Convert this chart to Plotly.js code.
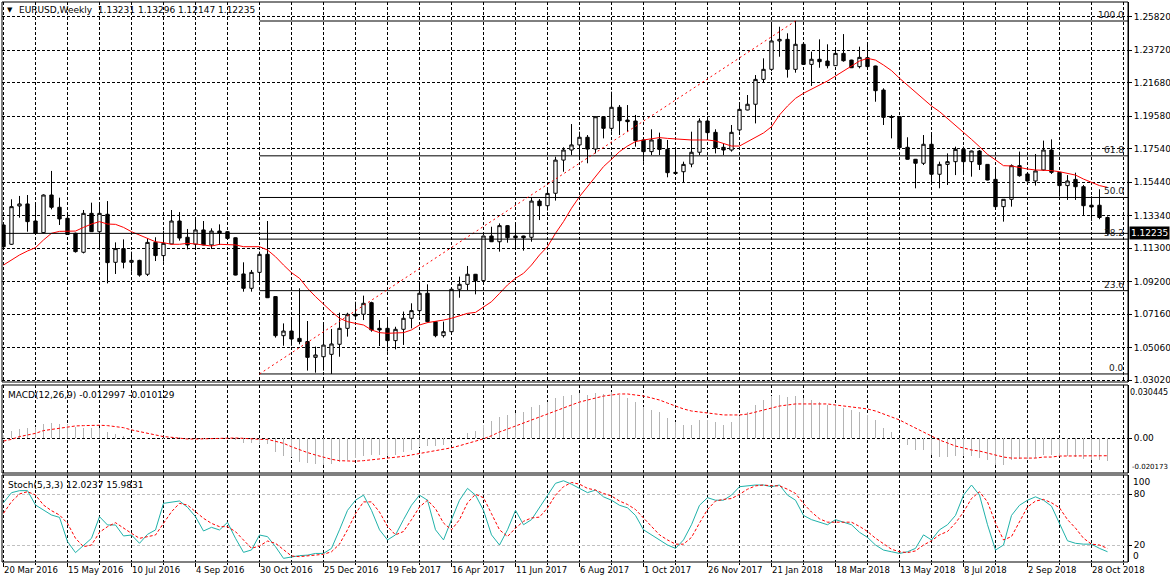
<!DOCTYPE html>
<html><head><meta charset="utf-8">
<script src="https://cdn.plot.ly/plotly-3.0.1.min.js"></script>
<style>html,body{margin:0;padding:0;background:#fff}#chart{width:1170px;height:584px}</style>
</head><body><div id="chart"></div><script>
// ---------------- DATA ----------------
const symbolTitle = 'EURUSD,Weekly\u00a0\u00a01.13231 1.13296 1.12147 1.12235';
const firstWeek = '2016-03-20';
const open = [
1.1276,1.1155,1.1395,1.1408,1.1301,1.1228,1.1464,1.1387,1.1318,1.1224,
1.1105,1.1349,1.1234,1.1343,1.1042,1.1128,1.1042,1.1054,1.0967,1.1167,
1.1084,1.1157,1.1301,1.1199,1.1155,1.1245,1.1151,1.1238,1.1234,1.1196,
1.0969,1.0879,1.0979,1.1092,1.0827,1.0582,1.0611,1.0565,1.0545,1.0446,
1.0450,1.0465,1.0528,1.0628,1.0716,1.0716,1.0789,1.0628,1.0628,1.0551,
1.0622,1.0691,1.0739,1.0848,1.0670,1.0582,1.0607,1.0873,1.0904,1.0967,
1.0927,1.1207,1.1171,1.1272,1.1207,1.1207,1.1199,1.1426,1.1397,1.1475,
1.1683,1.1746,1.1778,1.1826,1.1752,1.1955,1.1882,1.2014,1.1934,1.1928,
1.1809,1.1736,1.1813,1.1750,1.1606,1.1610,1.1658,1.1732,1.1928,1.1857,
1.1763,1.1746,1.1872,1.1997,1.2033,1.2189,1.2252,1.2430,1.2440,1.2252,
1.2409,1.2283,1.2315,1.2304,1.2275,1.2352,1.2310,1.2269,1.2325,1.2273,
1.2122,1.1955,1.1955,1.1763,1.1688,1.1663,1.1782,1.1594,1.1656,1.1673,
1.1750,1.1673,1.1740,1.1656,1.1562,1.1391,1.1437,1.1648,1.1596,1.1552,
1.1621,1.1746,1.1606,1.1523,1.1562,1.1516,1.1400,1.1400,1.13231];
const high = [
1.1291,1.1437,1.1458,1.1464,1.1401,1.1468,1.1615,1.1447,1.1349,1.1228,
1.1370,1.1416,1.1416,1.1426,1.1167,1.1186,1.1109,1.1058,1.1192,1.1199,
1.1240,1.1370,1.1357,1.1251,1.1322,1.1301,1.1255,1.1280,1.1236,1.1198,
1.1042,1.0994,1.1109,1.1301,1.0829,1.0659,1.0691,1.0879,1.0674,1.0513,
1.0659,1.0624,1.0726,1.0726,1.0795,1.0833,1.0795,1.0680,1.0680,1.0638,
1.0733,1.0785,1.0910,1.0904,1.0674,1.0670,1.0875,1.0952,1.1019,1.0969,
1.1209,1.1265,1.1286,1.1276,1.1291,1.1209,1.1447,1.1439,1.1506,1.1704,
1.1763,1.1909,1.1861,1.1840,1.1957,1.1957,1.2112,1.2028,1.2028,1.1966,
1.1819,1.1876,1.1855,1.1809,1.1746,1.1673,1.1861,1.1945,1.1934,1.1876,
1.1788,1.1903,1.2028,1.2091,1.2216,1.2321,1.2540,1.2519,1.2478,1.2555,
1.2411,1.2363,1.2440,1.2409,1.2377,1.2473,1.2312,1.2394,1.2409,1.2275,
1.2133,1.1966,1.1957,1.1826,1.1690,1.1840,1.1851,1.1673,1.1725,1.1767,
1.1767,1.1742,1.1746,1.1658,1.1625,1.1437,1.1656,1.1736,1.1600,1.1721,
1.1805,1.1813,1.1608,1.1589,1.1604,1.1527,1.1456,1.1500,1.13296];
const low = [
1.1136,1.1151,1.1322,1.1234,1.1222,1.1224,1.1374,1.1276,1.1215,1.1103,
1.1098,1.1232,1.1119,1.0910,1.0969,1.1004,1.0983,1.0952,1.0956,1.1050,
1.1046,1.1155,1.1178,1.1123,1.1130,1.1149,1.1126,1.1151,1.1186,1.0960,
1.0858,1.0858,1.0925,1.0818,1.0570,1.0519,1.0519,1.0528,1.0363,1.0350,
1.0363,1.0342,1.0450,1.0576,1.0680,1.0680,1.0607,1.0517,1.0482,1.0496,
1.0524,1.0628,1.0701,1.0664,1.0572,1.0570,1.0605,1.0820,1.0868,1.0841,
1.0925,1.1169,1.1109,1.1165,1.1119,1.1115,1.1171,1.1307,1.1366,1.1429,
1.1610,1.1715,1.1683,1.1663,1.1725,1.1819,1.1861,1.1840,1.1861,1.1767,
1.1673,1.1715,1.1715,1.1575,1.1598,1.1541,1.1638,1.1715,1.1809,1.1725,
1.1715,1.1736,1.1861,1.1995,1.1913,1.2168,1.2241,1.2331,1.2200,1.2231,
1.2281,1.2148,1.2262,1.2258,1.2273,1.2300,1.2260,1.2258,1.2267,1.2049,
1.1903,1.1819,1.1759,1.1686,1.1506,1.1652,1.1537,1.1506,1.1527,1.1589,
1.1600,1.1579,1.1621,1.1556,1.1387,1.1297,1.1391,1.1579,1.1548,1.1523,
1.1615,1.1596,1.1454,1.1433,1.1433,1.1339,1.1302,1.1312,1.12147];
const close = [
1.1140,1.1391,1.1408,1.1297,1.1224,1.1464,1.1387,1.1314,1.1217,1.1109,
1.1349,1.1234,1.1349,1.1040,1.1128,1.1042,1.1054,1.0962,1.1167,1.1084,
1.1161,1.1301,1.1194,1.1151,1.1245,1.1151,1.1238,1.1224,1.1192,1.0962,
1.0879,1.0979,1.1092,1.0820,1.0582,1.0611,1.0561,1.0545,1.0446,1.0461,
1.0523,1.0530,1.0628,1.0716,1.0706,1.0785,1.0618,1.0618,1.0551,1.0622,
1.0691,1.0739,1.0848,1.0670,1.0582,1.0607,1.0873,1.0904,1.0967,1.0927,
1.1207,1.1171,1.1272,1.1196,1.1196,1.1196,1.1426,1.1397,1.1474,1.1683,
1.1746,1.1778,1.1826,1.1752,1.1955,1.1882,1.2014,1.1930,1.1924,1.1805,
1.1736,1.1809,1.1750,1.1604,1.1600,1.1656,1.1732,1.1928,1.1855,1.1761,
1.1746,1.1857,1.2001,1.2033,1.2189,1.2252,1.2430,1.2440,1.2252,1.2409,
1.2283,1.2315,1.2300,1.2275,1.2352,1.2306,1.2262,1.2327,1.2269,1.2118,
1.1951,1.1951,1.1761,1.1688,1.1663,1.1782,1.1594,1.1656,1.1673,1.1750,
1.1673,1.1740,1.1656,1.1558,1.1391,1.1437,1.1648,1.1585,1.1552,1.1615,
1.1746,1.1606,1.1523,1.1552,1.1516,1.1397,1.1389,1.1323,1.12235];
const movingAvg = [
1.1025,1.1057,1.1088,1.1113,1.1134,1.1182,1.1224,1.1236,1.1238,1.1238,
1.1261,1.1282,1.1297,1.1282,1.1280,1.1261,1.1234,1.1213,1.1192,1.1171,
1.1165,1.1155,1.1155,1.1161,1.1157,1.1151,1.1144,1.1155,1.1155,1.1151,
1.1140,1.1140,1.1140,1.1119,1.1077,1.1025,1.0977,1.0942,1.0879,1.0827,
1.0779,1.0733,1.0691,1.0670,1.0659,1.0649,1.0618,1.0601,1.0597,1.0597,
1.0601,1.0618,1.0649,1.0664,1.0670,1.0680,1.0691,1.0705,1.0722,1.0728,
1.0764,1.0795,1.0847,1.0900,1.0942,1.0973,1.1025,1.1088,1.1140,1.1224,
1.1297,1.1381,1.1454,1.1516,1.1579,1.1642,1.1688,1.1736,1.1771,1.1799,
1.1809,1.1815,1.1824,1.1819,1.1815,1.1813,1.1809,1.1809,1.1809,1.1803,
1.1788,1.1771,1.1771,1.1799,1.1830,1.1853,1.1892,1.1966,1.2022,1.2070,
1.2102,1.2127,1.2154,1.2179,1.2210,1.2242,1.2275,1.2304,1.2321,1.2310,
1.2279,1.2244,1.2196,1.2154,1.2112,1.2066,1.2022,1.1987,1.1945,1.1903,
1.1861,1.1813,1.1767,1.1719,1.1684,1.1648,1.1646,1.1635,1.1627,1.1621,
1.1621,1.1617,1.1610,1.1600,1.1589,1.1564,1.1541,1.1523,1.1512];
const macdMain = [
0.0019,0.0045,0.0052,0.0062,0.0068,0.0081,0.0091,0.0081,0.0081,0.0068,
0.0062,0.0058,0.0058,0.0039,0.0025,0.0014,0.0006,0.0002,-0.0002,-0.0006,
-0.0002,0.0010,0.0006,-0.0002,-0.0002,-0.0004,-0.0002,-0.0002,-0.0006,-0.0010,
-0.0025,-0.0025,-0.0033,-0.0035,-0.0078,-0.0103,-0.0107,-0.0136,-0.0145,-0.0152,
-0.0155,-0.0152,-0.0140,-0.0125,-0.0112,-0.0100,-0.0097,-0.0097,-0.0100,-0.0095,
-0.0082,-0.0068,-0.0050,-0.0045,-0.0045,-0.0040,-0.0015,0.0005,0.0030,0.0042,
0.0077,0.0101,0.0124,0.0136,0.0147,0.0153,0.0182,0.0194,0.0211,0.0235,
0.0246,0.0252,0.0264,0.0252,0.0264,0.0258,0.0269,0.0252,0.0235,0.0211,
0.0182,0.0165,0.0153,0.0118,0.0095,0.0077,0.0077,0.0107,0.0107,0.0095,
0.0077,0.0095,0.0130,0.0153,0.0194,0.0223,0.0246,0.0252,0.0240,0.0246,
0.0235,0.0223,0.0211,0.0194,0.0194,0.0176,0.0165,0.0153,0.0136,0.0107,
0.0060,0.0037,-0.0010,-0.0039,-0.0068,-0.0068,-0.0097,-0.0109,-0.0109,-0.0103,
-0.0103,-0.0103,-0.0115,-0.0126,-0.0155,-0.0155,-0.0126,-0.0120,-0.0120,-0.0115,
-0.0097,-0.0097,-0.0103,-0.0103,-0.0109,-0.0120,-0.0126,-0.0126,-0.012997];
const macdSignal = [
-0.0016,-0.0006,0.0010,0.0019,0.0029,0.0045,0.0052,0.0062,0.0068,0.0072,
0.0074,0.0076,0.0076,0.0074,0.0068,0.0062,0.0049,0.0039,0.0029,0.0019,
0.0010,0.0006,0.0000,-0.0004,-0.0004,-0.0002,0.0000,0.0000,0.0002,0.0002,
0.0000,-0.0004,-0.0006,-0.0006,-0.0019,-0.0029,-0.0049,-0.0068,-0.0083,-0.0097,
-0.0110,-0.0122,-0.0130,-0.0133,-0.0133,-0.0130,-0.0126,-0.0120,-0.0115,-0.0110,
-0.0105,-0.0097,-0.0088,-0.0080,-0.0072,-0.0065,-0.0055,-0.0043,-0.0030,-0.0018,
-0.0003,0.0015,0.0037,0.0054,0.0072,0.0089,0.0107,0.0124,0.0141,0.0159,
0.0176,0.0194,0.0211,0.0223,0.0235,0.0246,0.0252,0.0258,0.0258,0.0252,
0.0246,0.0235,0.0223,0.0205,0.0188,0.0171,0.0159,0.0153,0.0147,0.0141,
0.0136,0.0136,0.0136,0.0141,0.0153,0.0165,0.0176,0.0188,0.0194,0.0200,
0.0200,0.0200,0.0200,0.0200,0.0194,0.0188,0.0182,0.0176,0.0171,0.0159,
0.0141,0.0124,0.0107,0.0083,0.0060,0.0037,0.0013,-0.0010,-0.0027,-0.0045,
-0.0056,-0.0068,-0.0074,-0.0086,-0.0097,-0.0109,-0.0115,-0.0115,-0.0115,-0.0115,
-0.0109,-0.0109,-0.0103,-0.0103,-0.0103,-0.0103,-0.0103,-0.0102,-0.010129];
const stochK = [
70.1,81.9,84.3,84.3,67.3,61.4,55.5,52.7,24.0,11.0,
20.0,27.9,53.5,43.7,43.7,30.7,31.8,22.0,32.6,37.8,
69.3,70.5,72.1,64.6,53.5,36.6,40.9,37.8,46.8,27.9,
11.3,14.1,31.8,29.9,18.0,4.2,6.2,7.4,8,10,
10,16,38,61,73,79,61,38,26,32,
50,67,79,73,38,26,50,73,87,79,
61,32,20,38,61,44,50,64,79,93,
96,92,87,82,85,77,73,67,64,55,
38,32,26,20,16,26,44,67,76,73,
73,79,89,90,91,91,89,91,79,73,
55,50,47,44,50,47,44,35,29,20,
14,12,10,12,16,32,26,38,44,55,
79,91,79,44,14,20,55,67,73,77,
73,66,46,25,22,21,21,16,12.0237];
const stochD = [
57.5,71.3,80.4,83.1,79.2,67.3,60.6,55.5,45.6,27.9,
18.0,20.0,35.0,41.7,46.4,39.7,33.8,27.9,29.9,31.8,
45.6,59.4,69.3,67.3,59.4,51.6,45.6,41.7,41.7,35.8,
25.9,16.1,18.8,24.7,22.0,14.1,7.0,6.2,7,8,
9,12,21,38,57,71,71,59,42,32,
36,50,65,73,63,46,38,50,70,80,
76,57,38,30,40,48,52,53,64,79,
89,94,92,87,85,81,78,72,68,62,
52,42,32,26,21,21,29,46,62,72,
74,75,80,86,90,91,90,90,86,81,
69,59,51,47,47,47,47,42,36,28,
21,15,12,11,13,20,25,32,36,46,
59,75,83,71,46,26,30,47,65,72,
74,70,64,50,40,28,21,20,15.9831];

const priceTicks = [1.2582,1.2372,1.2168,1.1958,1.1754,1.1544,1.1334,1.1130,1.0920,1.0716,1.0506,1.0302];
const priceTickText = ['1.25820','1.23720','1.21680','1.19580','1.17540','1.15440','1.13340','1.11300','1.09200','1.07160','1.05060','1.03020'];
const dateTicks = ['2016-03-20','2016-05-15','2016-07-10','2016-09-04','2016-10-30','2016-12-25','2017-02-19','2017-04-16','2017-06-11','2017-08-06','2017-10-01','2017-11-26','2018-01-21','2018-03-18','2018-05-13','2018-07-08','2018-09-02','2018-10-28'];
const dateTickText = ['20 Mar 2016','15 May 2016','10 Jul 2016','4 Sep 2016','30 Oct 2016','25 Dec 2016','19 Feb 2017','16 Apr 2017','11 Jun 2017','6 Aug 2017','1 Oct 2017','26 Nov 2017','21 Jan 2018','18 Mar 2018','13 May 2018','8 Jul 2018','2 Sep 2018','28 Oct 2018'];
const macdTitle = 'MACD(12,26,9) -0.012997 -0.010129';
const stochTitle = 'Stoch(5,3,3) 12.0237 15.9831';
const macdMax = 0.030445, macdMin = -0.020173;
const bidPrice = 1.12235;
const fibLevels = [0.0, 23.6, 38.2, 50.0, 61.8, 100.0];
const fibLabels = ['0.0','23.6','38.2','50.0','61.8','100.0'];
const fibLowPrice = 1.0342, fibHighPrice = 1.2555;
const fibStartWeek = '2016-10-30', fibEndWeek = '2018-02-11';

// ---------------- LAYOUT HELPERS ----------------
const W = 1170, H = 584, ML = 2, MR = 42, MT = 2, MB = 22;
const PW = W - ML - MR, PH = H - MT - MB;
const px2x = p => (p - ML) / PW;
const px2y = p => (H - MB - p) / PH;
const DAY = 864e5;
const t0 = Date.parse(firstWeek + 'T00:00:00Z');
const weeks = open.map((_, i) => new Date(t0 + i * 7 * DAY).toISOString().slice(0, 10));
const msPerPx = 7 * DAY / 8;
const xr = [t0 - 1.5 * msPerPx, t0 + (weeks.length - 1) * 7 * DAY + 20.5 * msPerPx];
const FONT = 'DejaVu Sans';
const dash = '3px,2px';

const traces = [
  {type:'candlestick', x:weeks, open, high, low, close, xaxis:'x', yaxis:'y',
   increasing:{line:{color:'#000',width:1}, fillcolor:'#fff'},
   decreasing:{line:{color:'#000',width:1}, fillcolor:'#000'},
   whiskerwidth:0, hoverinfo:'skip', showlegend:false},
  {type:'scatter', mode:'lines', x:weeks, y:movingAvg, xaxis:'x', yaxis:'y',
   line:{color:'#ff0000', width:1}, hoverinfo:'skip', showlegend:false},
  {type:'bar', x:weeks, y:macdMain, xaxis:'x', yaxis:'y2', width:1.2*msPerPx,
   marker:{color:'#b4b4b4', line:{width:0}}, hoverinfo:'skip', showlegend:false},
  {type:'scatter', mode:'lines', x:weeks, y:macdSignal, xaxis:'x', yaxis:'y2',
   line:{color:'#ff0000', width:1, dash:dash}, hoverinfo:'skip', showlegend:false},
  {type:'scatter', mode:'lines', x:weeks, y:stochK, xaxis:'x', yaxis:'y3',
   line:{color:'#20b2aa', width:1}, hoverinfo:'skip', showlegend:false},
  {type:'scatter', mode:'lines', x:weeks, y:stochD, xaxis:'x', yaxis:'y3',
   line:{color:'#ff0000', width:1, dash:dash}, hoverinfo:'skip', showlegend:false}
];

const shapes = [];
const border = {color:'#000', width:1};
[[2,382],[385,473],[475,562]].forEach(([a,b]) => shapes.push({type:'rect', xref:'paper', yref:'paper', x0:0, x1:1, y0:px2y(b), y1:px2y(a), line:border, layer:'above'}));
fibLevels.forEach(l => {
  const p = fibLowPrice + l / 100 * (fibHighPrice - fibLowPrice);
  shapes.push({type:'line', xref:'x', yref:'y', x0:fibStartWeek, x1:xr[1], y0:p, y1:p, line:{color:'#000', width:1}});
});
shapes.push({type:'line', xref:'x', yref:'y', x0:fibStartWeek, y0:fibLowPrice, x1:fibEndWeek, y1:fibHighPrice, line:{color:'#ff0000', width:1, dash:'2px,3px'}});
shapes.push({type:'line', xref:'x', yref:'y', x0:xr[0], x1:xr[1], y0:bidPrice, y1:bidPrice, line:{color:'#000', width:1}});

const annotations = [];
const txt = (text, x, y, opts) => Object.assign({text, x, y, xref:'paper', yref:'paper', showarrow:false, xanchor:'left', yanchor:'middle', font:{family:FONT, size:9, color:'#000'}}, opts || {});
annotations.push(txt('\u25BC', px2x(5), px2y(10.5), {font:{family:FONT, size:7, color:'#000'}}));
annotations.push(txt(symbolTitle, px2x(17), px2y(10.5)));
annotations.push(txt(macdTitle, px2x(6), px2y(395)));
annotations.push(txt(stochTitle, px2x(6), px2y(485)));
annotations.push(txt(macdMax.toFixed(6), px2x(1168.5), px2y(392.7), {xanchor:'right', borderpad:0, font:{family:FONT, size:8, color:'#000'}}));
annotations.push(txt(macdMin.toFixed(6), px2x(1169), px2y(467.3), {xanchor:'right', borderpad:0, font:{family:FONT, size:7, color:'#000'}}));
annotations.push(txt('100', px2x(1131), px2y(481.7)));
annotations.push(txt('0', px2x(1131), px2y(555.7)));
fibLevels.forEach((l, i) => {
  const p = fibLowPrice + l / 100 * (fibHighPrice - fibLowPrice);
  annotations.push({text:fibLabels[i], x:px2x(1125), y:p, xref:'paper', yref:'y', showarrow:false, xanchor:'right', yanchor:'bottom', borderpad:0, font:{family:FONT, size:9, color:'#1a1a1a'}});
});
annotations.push({text:bidPrice.toFixed(5), x:px2x(1129), y:bidPrice, xref:'paper', yref:'y', showarrow:false, xanchor:'left', yanchor:'middle', bgcolor:'#000', borderpad:1, font:{family:FONT, size:9, color:'#fff'}});

const yCommon = {side:'right', anchor:'x', showline:true, linecolor:'#000', linewidth:1, ticks:'outside', ticklen:3, tickcolor:'#000', zeroline:false, fixedrange:true, tickfont:{family:FONT, size:9, color:'#000'}, tickmode:'array'};
const layout = {
  width:W, height:H, margin:{l:ML, r:MR, t:MT, b:MB}, paper_bgcolor:'#fff', plot_bgcolor:'#fff',
  showlegend:false, dragmode:false, boxgap:0.4, bargap:0,
  xaxis:{type:'date', range:xr, anchor:'y3', rangeslider:{visible:false}, fixedrange:true,
    tickmode:'array', tickvals:dateTicks, ticktext:dateTickText, ticks:'outside', ticklen:4, tickcolor:'#000',
    ticklabelposition:'outside right', tickfont:{family:FONT, size:8.5, color:'#000'},
    showgrid:true, gridcolor:'#000', gridwidth:1, griddash:dash, zeroline:false, showline:false,
    minor:{tick0:firstWeek, dtick:28*DAY, showgrid:true, gridcolor:'#000', gridwidth:1, griddash:dash, ticks:'outside', ticklen:2, tickcolor:'#000'}},
  yaxis:Object.assign({}, yCommon, {domain:[px2y(382), 1], range:[1.26867-0.000627*382, 1.26867-0.000627*2],
    tickvals:priceTicks, ticktext:priceTickText, showgrid:true, gridcolor:'#000', griddash:dash}),
  yaxis2:Object.assign({}, yCommon, {domain:[px2y(473), px2y(385)], range:[macdMin, macdMax + (macdMax-macdMin)/87],
    tickvals:[0], ticktext:['0.00'], showgrid:true, gridcolor:'#000', griddash:dash}),
  yaxis3:Object.assign({}, yCommon, {domain:[0, px2y(475)], range:[-0.12, 102.84],
    tickvals:[20, 80], ticktext:['20','80'], showgrid:true, gridcolor:'#c0c0c0', griddash:dash}),
  shapes, annotations
};
Plotly.newPlot('chart', traces, layout, {displayModeBar:false, staticPlot:true});
</script></body></html>
